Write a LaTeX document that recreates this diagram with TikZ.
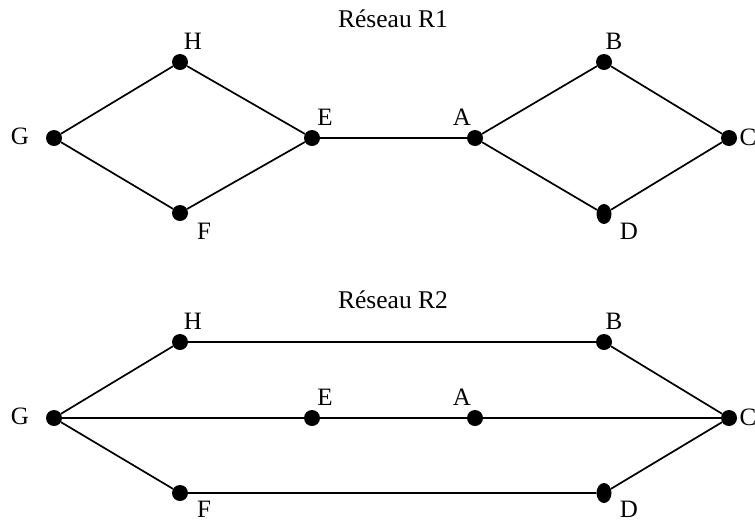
\documentclass[tikz,border=0pt]{standalone}
\usepackage{fontspec}
\setmainfont{Liberation Serif}
\usetikzlibrary{shapes.geometric}
\begin{document}
\begin{tikzpicture}[x=1pt,y=-1pt,
  vtx/.style={circle,fill=black,inner sep=0pt,minimum size=16pt},
  vtxd/.style={ellipse,fill=black,inner sep=0pt,minimum width=15pt,minimum height=20pt},
  lbl/.style={inner sep=0pt,font=\fontsize{25}{25}\selectfont},
  ttl/.style={inner sep=0pt,font=\fontsize{25.5}{25.5}\selectfont},
  edge/.style={line width=1.7pt}]
\path[use as bounding box] (0,0) rectangle (755,523);
% Reseau R1
\node[ttl] (t1) at (393,19) {Réseau R1};
\node[vtx] (H1) at (180,62) {};
\node[vtx] (G1) at (54,138) {};
\node[vtx] (E1) at (312,138) {};
\node[vtx] (F1) at (180,213) {};
\node[vtx] (A1) at (475,138) {};
\node[vtx] (B1) at (604,62) {};
\node[vtx] (C1) at (729,138) {};
\node[vtxd] (D1) at (604,214) {};
\node[lbl] (lH1) at (193,41) {H};
\node[lbl] (lG1) at (20,136) {G};
\node[lbl] (lE1) at (325,117) {E};
\node[lbl] (lF1) at (204,231) {F};
\node[lbl] (lA1) at (462,117) {A};
\node[lbl] (lB1) at (614,41) {B};
\node[lbl] (lC1) at (748,137) {C};
\node[lbl] (lD1) at (629,231) {D};
\draw[edge] (G1) -- (H1) -- (E1) -- (F1) -- (G1);
\draw[edge] (E1) -- (A1);
\draw[edge] (A1) -- (B1) -- (C1) -- (D1) -- (A1);
% Reseau R2
\node[ttl] (t2) at (393,300) {Réseau R2};
\node[vtx] (H2) at (180,342) {};
\node[vtx] (G2) at (54,418) {};
\node[vtx] (E2) at (312,418) {};
\node[vtx] (F2) at (180,493) {};
\node[vtx] (A2) at (475,418) {};
\node[vtx] (B2) at (604,342) {};
\node[vtx] (C2) at (729,418) {};
\node[vtxd] (D2) at (604,493) {};
\node[lbl] (lH2) at (193,321) {H};
\node[lbl] (lG2) at (20,416) {G};
\node[lbl] (lE2) at (325,397) {E};
\node[lbl] (lF2) at (204,509) {F};
\node[lbl] (lA2) at (462,397) {A};
\node[lbl] (lB2) at (614,321) {B};
\node[lbl] (lC2) at (748,417) {C};
\node[lbl] (lD2) at (629,509) {D};
\draw[edge] (G2) -- (H2) -- (B2) -- (C2) -- (D2) -- (F2) -- (G2);
\draw[edge] (G2) -- (E2) -- (A2) -- (C2);
\end{tikzpicture}
\end{document}
